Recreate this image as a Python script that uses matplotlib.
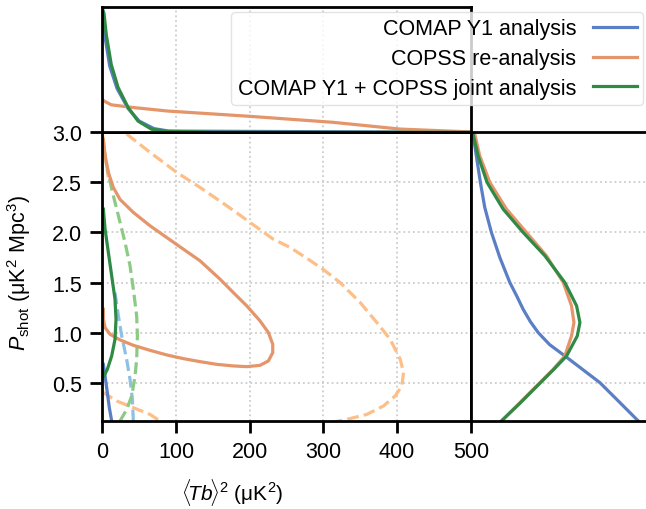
import matplotlib
matplotlib.use('Agg')
import matplotlib.pyplot as plt

plt.rcParams['font.family'] = ['Liberation Sans', 'DejaVu Sans']
plt.rcParams['mathtext.fontset'] = 'custom'
plt.rcParams['mathtext.rm'] = 'Liberation Sans'
plt.rcParams['mathtext.it'] = 'Liberation Sans:italic'
plt.rcParams['font.size'] = 15.5

# colours
BLUE, ORANGE, GREEN = '#5a7fc5', '#e5956a', '#2f8a46'
LBLUE, LORANGE, LGREEN = '#8fc0e3', '#fdbf87', '#8ccb84'

labels = ['COMAP Y1 analysis', 'COPSS re-analysis', 'COMAP Y1 + COPSS joint analysis']

# --- main panel contours (x = <Tb>^2, y = P_shot) ---
copss68_x = [1.4, 3.7, 8.2, 14.9, 24, 42.1, 64.7, 87.3, 110, 132.6, 159.8, 177.8, 196, 214, 225.4, 231.3,
             231.3, 225.4, 214, 196, 177.8, 155.2, 132.6, 110, 87.3, 64.7, 42.1, 24, 10.5, 3.7, 1.4, 1.4]
copss68_y = [2.93, 2.77, 2.6, 2.45, 2.33, 2.2, 2.067, 1.95, 1.833, 1.717, 1.533, 1.4, 1.267, 1.117, 1.0, 0.883,
             0.8, 0.717, 0.673, 0.66, 0.667, 0.683, 0.71, 0.74, 0.777, 0.823, 0.873, 0.927, 0.983, 1.05, 1.133, 1.233]

copss95_x = [33, 64.7, 100.9, 132.6, 168.8, 200.5, 232, 255, 280, 300, 322.7, 350, 372.6, 390.7, 404.3, 408.8,
             406.5, 397.4, 381.5, 358.9, 331.7, 309]
copss95_y = [2.983, 2.8, 2.6, 2.45, 2.267, 2.1, 1.933, 1.85, 1.73, 1.63, 1.5, 1.3, 1.1, 0.933, 0.733, 0.6,
             0.467, 0.367, 0.267, 0.183, 0.133, 0.1]
copss95_lo_x = [0, 1.4, 19.5, 42.1, 64.7, 78.3]
copss95_lo_y = [0.41, 0.4, 0.317, 0.25, 0.183, 0.117]
copss95_top_x = [0.5, 2, 4.5, 8]
copss95_top_y = [2.97, 2.88, 2.73, 2.55]

joint68_x = [1.4, 3.7, 8.2, 12.7, 17.2, 18.6, 17.2, 12.7, 6.8, 2.3, 0.5]
joint68_y = [2.233, 2.033, 1.8, 1.567, 1.333, 1.133, 0.933, 0.767, 0.633, 0.567, 0.55]
joint95_x = [1.4, 6, 12.7, 21.8, 30.8, 37.6, 42.1, 46.6, 47.6, 46.6, 44.4, 39.9, 33.1, 24]
joint95_y = [2.867, 2.667, 2.433, 2.167, 1.9, 1.667, 1.433, 1.167, 0.967, 0.733, 0.567, 0.367, 0.233, 0.117]

comap68_x = [1.4, 3.7, 6.8, 9.5, 12.7]
comap68_y = [0.683, 0.567, 0.4, 0.25, 0.117]
comap95_x = [17.2, 21.8, 26.3, 33, 37.6, 40.8, 42.1]
comap95_y = [1.4, 1.167, 0.967, 0.733, 0.533, 0.333, 0.117]

# --- top marginal (x = <Tb>^2) ---
top_comap_x = [0, 1.5, 4, 10, 20, 35, 50, 70, 90, 500]
top_comap_y = [1.0, 0.9, 0.75, 0.53, 0.35, 0.19, 0.09, 0.03, 0.01, 0.0]
top_copss_x = [0, 2.3, 12.2, 39.4, 89, 200, 313, 404, 500]
top_copss_y = [0.266, 0.25, 0.22, 0.2, 0.17, 0.128, 0.08, 0.026, 0.003]
top_joint_x = [0, 2.3, 5.4, 12.2, 21.3, 34.9, 48.4, 66.7, 89, 150, 500]
top_joint_y = [0.99, 0.95, 0.78, 0.54, 0.36, 0.2, 0.09, 0.025, 0.008, 0.001, 0.0]

# --- right marginal (y = P_shot) ---
r_comap_y = [3.0, 2.983, 2.5, 2.25, 2.0, 1.75, 1.5, 1.367, 1.233, 1.11, 1.0, 0.88, 0.767, 0.627, 0.5, 0.317, 0.133, 0.12]
r_comap_p = [0.01, 0.013, 0.055, 0.08, 0.118, 0.166, 0.223, 0.262, 0.299, 0.34, 0.385, 0.45, 0.537, 0.642, 0.737, 0.842, 0.947, 0.955]
r_copss_y = [3.0, 2.983, 2.767, 2.5, 2.233, 2.0, 1.767, 1.5, 1.267, 1.1, 0.967, 0.767, 0.633, 0.5, 0.3, 0.117]
r_copss_p = [0.015, 0.023, 0.051, 0.109, 0.204, 0.318, 0.432, 0.528, 0.575, 0.589, 0.575, 0.537, 0.47, 0.394, 0.28, 0.175]
r_joint_y = [3.0, 2.983, 2.767, 2.5, 2.233, 2.0, 1.767, 1.5, 1.267, 1.1, 0.967, 0.767, 0.633, 0.5, 0.3, 0.117]
r_joint_p = [0.008, 0.013, 0.042, 0.093, 0.185, 0.299, 0.423, 0.537, 0.604, 0.623, 0.608, 0.547, 0.474, 0.398, 0.284, 0.175]

x_ticks = [0, 100, 200, 300, 400, 500]
y_ticks = [0.5, 1.0, 1.5, 2.0, 2.5, 3.0]

fig = plt.figure(figsize=(6.46, 5.10), dpi=100)
ax = fig.add_axes([0.1584, 0.1731, 0.5703, 0.5655])
ax_top = fig.add_axes([0.1584, 0.7386, 0.5703, 0.2451])
ax_r = fig.add_axes([0.7287, 0.1731, 0.2713, 0.5655])

grid_kw = dict(color='#cccccc', linestyle=':', linewidth=1.3)
lw = 2.3

# main panel
ax.plot(copss95_top_x, copss95_top_y, color=LORANGE, lw=lw, ls='--')
ax.plot(copss95_x, copss95_y, color=LORANGE, lw=lw, ls='--')
ax.plot(copss95_lo_x, copss95_lo_y, color=LORANGE, lw=lw, ls='--')
ax.plot(comap95_x, comap95_y, color=LBLUE, lw=lw, ls='--')
ax.plot(joint95_x, joint95_y, color=LGREEN, lw=lw, ls='--')
ax.plot(copss68_x, copss68_y, color=ORANGE, lw=lw)
ax.plot(comap68_x, comap68_y, color=BLUE, lw=lw)
ax.plot(joint68_x, joint68_y, color=GREEN, lw=lw)
ax.set_xlim(0, 500)
ax.set_ylim(0.12, 3.0)
ax.set_xticks(x_ticks)
ax.set_yticks(y_ticks)
ax.grid(True, **grid_kw)
ax.tick_params(direction='out', length=8.5, width=2, pad=6)
for s in ax.spines.values():
    s.set_linewidth(2)
ax.set_xlabel(r'$\langle\!Tb\!\rangle^2$ (μK$^2$)', fontsize=15)
ax.set_ylabel(r'$P_{\rm shot}$ (μK$^2$ Mpc$^3$)')
ax.xaxis.set_label_coords(0.352, -0.19)
ax.yaxis.set_label_coords(-0.188, 0.516)

# top marginal
ax_top.plot(top_comap_x, top_comap_y, color=BLUE, lw=lw)
ax_top.plot(top_copss_x, top_copss_y, color=ORANGE, lw=lw)
ax_top.plot(top_joint_x, top_joint_y, color=GREEN, lw=lw)
ax_top.set_xlim(0, 500)
ax_top.set_ylim(0, 1.0)
ax_top.set_xticks(x_ticks[1:-1])
ax_top.set_yticks([])
ax_top.grid(True, axis='x', **grid_kw)
ax_top.tick_params(bottom=False, labelbottom=False, left=False, labelleft=False)
for s in ax_top.spines.values():
    s.set_linewidth(2)

# right marginal
h1, = ax_r.plot(r_comap_p, r_comap_y, color=BLUE, lw=lw)
h2, = ax_r.plot(r_copss_p, r_copss_y, color=ORANGE, lw=lw)
h3, = ax_r.plot(r_joint_p, r_joint_y, color=GREEN, lw=lw)
ax_r.set_xlim(0, 1.0)
ax_r.set_ylim(0.12, 3.0)
ax_r.set_yticks(y_ticks[:-1])
ax_r.set_xticks([])
ax_r.grid(True, axis='y', **grid_kw)
ax_r.tick_params(left=False, labelleft=False, bottom=False, labelbottom=False)
for s in ax_r.spines.values():
    s.set_linewidth(2)
ax_r.spines['right'].set_visible(False)

leg = fig.legend([h1, h2, h3], labels, loc='upper right',
                 bbox_to_anchor=(643 / 646, 1 - 13 / 510), markerfirst=False,
                 handlelength=2.0, handletextpad=0.8, labelspacing=0.4, borderpad=0.3,
                 framealpha=0.8, edgecolor='#dddddd', borderaxespad=0)

fig.savefig('out.png', dpi=100)
